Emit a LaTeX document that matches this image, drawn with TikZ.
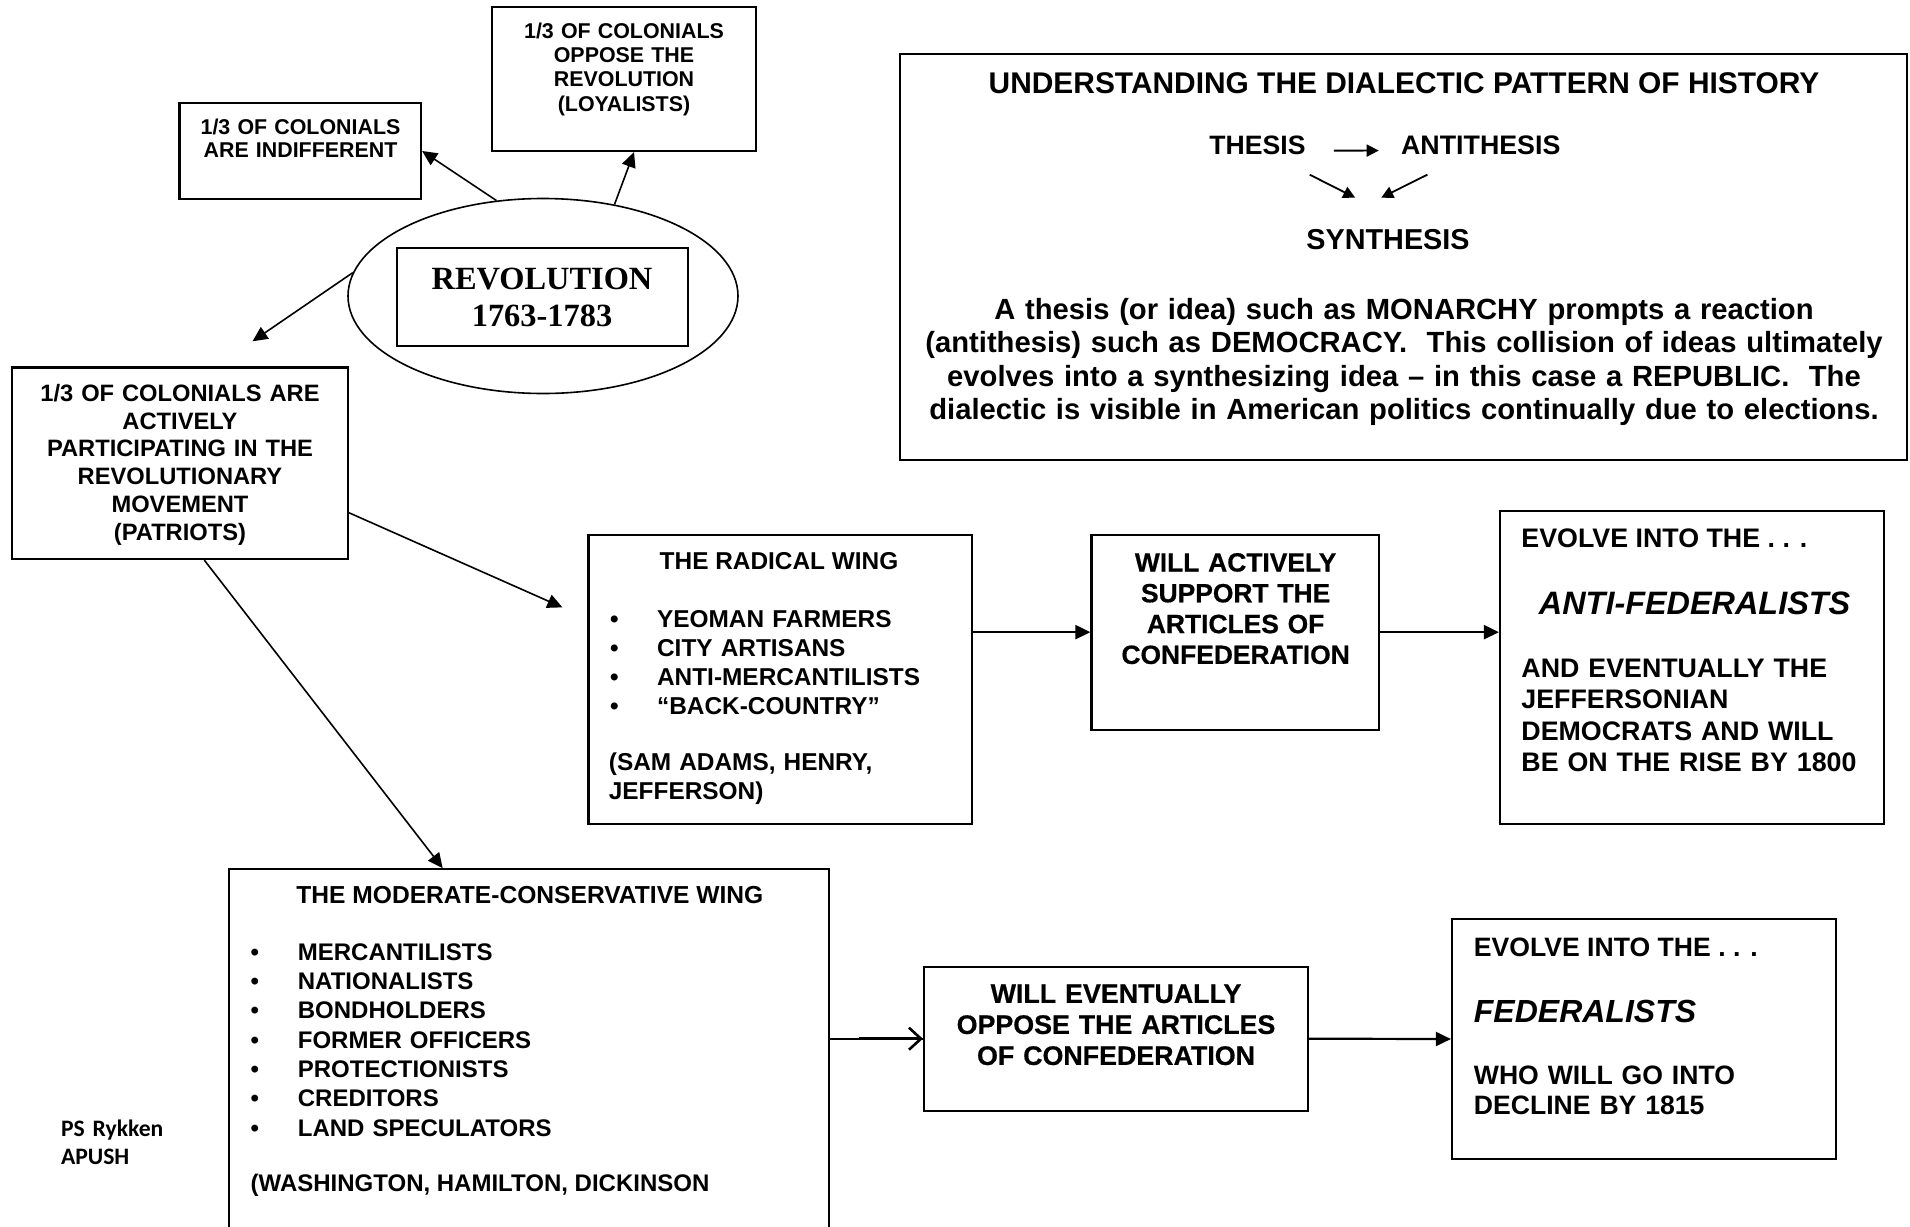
\documentclass[tikz,border=0pt]{standalone}
\usepackage{fontspec}
\setmainfont{Liberation Sans}
\newfontfamily\serifb{Liberation Serif}
\newfontfamily\carl{Carlito}
\newfontfamily\heavyfont{Liberation Sans}[BoldFeatures={FakeBold=0.6}]
\usetikzlibrary{arrows.meta,shapes.geometric,fit,calc}
\newcommand\fsz[2]{\fontsize{#1}{#2}\selectfont\bfseries}
\begin{document}
\begin{tikzpicture}[x=0.5pt,y=-0.5pt,
  box/.style={draw, line width=1.1pt, inner sep=0pt, rectangle},
  txt/.style={inner sep=0pt},
  arr/.style={line width=0.8pt, -{Triangle[length=7.5pt,width=7pt]}},
  harr/.style={line width=1.1pt, -{Triangle[length=7.5pt,width=7pt]}},
  sarr/.style={line width=0.9pt, -{Triangle[length=6pt,width=6pt]}}]
\fill[white] (0,0) rectangle (1910,1226);
\clip (0,0) rectangle (1910,1226);

% boxes
\node[box, fit={(492,6.7) (756,151)}] (loy) {};
\node[box, fit={(179.4,103) (421,199)}] (ind) {};
\node[draw, ellipse, line width=0.8pt, minimum width=195pt, minimum height=97.5pt, inner sep=0pt] (rev) at (543,296) {};
\node[box, fit={(396.8,247.8) (688,346)}] (revbox) {};
\node[box, fit={(12,367.4) (348,559)}] (pat) {};
\node[box, fit={(899.8,54.2) (1907,460)}] (dia) {};
\node[box, fit={(588.5,534.7) (972,824)}] (rad) {};
\node[box, fit={(1091.5,534.7) (1379,729.6)}] (sup) {};
\node[box, fit={(1500,510.8) (1884,824)}] (anti) {};
\node[box, fit={(229,869.3) (829,1250)}] (mod) {};
\node[box, fit={(924,966.7) (1307.9,1110.7)}] (opp) {};
\node[box, fit={(1452,919) (1836,1159)}] (fed) {};

% texts
\node[txt, anchor=base, align=center, text width=125pt, font=\fsz{10.7}{12.2}] (loyT) at (624,38.1)
  {1/3 OF COLONIALS\\OPPOSE THE\\REVOLUTION\\(LOYALISTS)};
\node[txt, anchor=base, align=center, text width=115pt, font=\fsz{10.7}{11.6}] (indT) at (300.5,134.7)
  {1/3 OF COLONIALS\\ARE INDIFFERENT};
\node[txt, anchor=base, align=center, text width=140pt, font={\serifb\fsz{16.2}{18.65}}] (revT) at (542,289)
  {REVOLUTION\\1763-1783};
\node[txt, anchor=base, align=center, text width=160pt, font=\fsz{11.85}{13.9}] (patT) at (180,401.2)
  {1/3 OF COLONIALS ARE\\ACTIVELY\\PARTICIPATING IN THE\\REVOLUTIONARY\\MOVEMENT\\(PATRIOTS)};

\node[txt, anchor=base, font=\fsz{14.95}{17}] (diaT) at (1404,93.7)
  {UNDERSTANDING THE DIALECTIC PATTERN OF HISTORY};
\node[txt, anchor=base west, font=\fsz{13.3}{15}] (thesis) at (1209,154.8) {THESIS};
\node[txt, anchor=base west, font=\fsz{13.4}{15}] (antithesis) at (1400.7,154.8) {ANTITHESIS};
\node[txt, anchor=base, font=\fsz{14.4}{16}] (synthesis) at (1388,249) {SYNTHESIS};
\node[txt, anchor=base, align=center, text width=490pt, font=\fsz{14.6}{16.7}] (diaP) at (1404,319.5)
  {A thesis (or idea) such as MONARCHY prompts a reaction\\(antithesis) such as DEMOCRACY.\ \ This collision of ideas ultimately\\evolves into a synthesizing idea – in this case a REPUBLIC.\ \ The\\dialectic is visible in American politics continually due to elections.};

\node[txt, anchor=base, font=\fsz{12.2}{14.8}] (radT) at (779,569.3) {THE RADICAL WING};
\node[txt, anchor=base west, align=left, text width=170pt, font=\fsz{12.2}{14.6}] (radL) at (609.7,627.2)
  {\makebox[23.5pt][l]{\textbullet}YEOMAN FARMERS\\\makebox[23.5pt][l]{\textbullet}CITY ARTISANS\\\makebox[23.5pt][l]{\textbullet}ANTI-MERCANTILISTS\\\makebox[23.5pt][l]{\textbullet}“BACK-COUNTRY”};
\node[txt, anchor=base west, align=left, text width=170pt, font=\fsz{12.2}{14.6}] (radN) at (608.5,770)
  {(SAM ADAMS, HENRY,\\JEFFERSON)};

\node[txt, anchor=base, align=center, text width=135pt, font={\heavyfont\fsz{13.2}{15.4}}] (supT) at (1235.6,571.5)
  {WILL ACTIVELY\\SUPPORT THE\\ARTICLES OF\\CONFEDERATION};

\node[txt, anchor=base west, font=\fsz{13.4}{15.6}] (antiE) at (1521,547.3) {EVOLVE INTO THE . . .};
\node[txt, anchor=base west, font={\fsz{16.2}{18}\itshape}] (antiF) at (1538.5,614) {ANTI-FEDERALISTS};
\node[txt, anchor=base west, align=left, text width=175pt, font=\fsz{13.4}{15.65}] (antiB) at (1521,677.6)
  {AND EVENTUALLY THE\\JEFFERSONIAN\\DEMOCRATS AND WILL\\BE ON THE RISE BY 1800};

\node[txt, anchor=base west, font=\fsz{12.3}{14.6}] (modT) at (296,903.6) {THE MODERATE-CONSERVATIVE WING};
\node[txt, anchor=base west, align=left, text width=200pt, font=\fsz{12}{14.65}] (modL) at (250.3,960.3)
  {\makebox[23.6pt][l]{\textbullet}MERCANTILISTS\\\makebox[23.6pt][l]{\textbullet}NATIONALISTS\\\makebox[23.6pt][l]{\textbullet}BONDHOLDERS\\\makebox[23.6pt][l]{\textbullet}FORMER OFFICERS\\\makebox[23.6pt][l]{\textbullet}PROTECTIONISTS\\\makebox[23.6pt][l]{\textbullet}CREDITORS\\\makebox[23.6pt][l]{\textbullet}LAND SPECULATORS};
\node[txt, anchor=base west, font=\fsz{12}{14.6}] (modN) at (250.3,1191.9) {(WASHINGTON, HAMILTON, DICKINSON};

\node[txt, anchor=base, align=center, text width=180pt, font={\heavyfont\fsz{13.4}{15.5}}] (oppT) at (1116,1002.9)
  {WILL EVENTUALLY\\OPPOSE THE ARTICLES\\OF CONFEDERATION};

\node[txt, anchor=base west, font=\fsz{13.3}{15}] (fedE) at (1473.5,956.2) {EVOLVE INTO THE . . .};
\node[txt, anchor=base west, font={\fsz{16}{18}\itshape}] (fedF) at (1473.5,1022.5) {FEDERALISTS};
\node[txt, anchor=base west, align=left, text width=170pt, font=\fsz{13.3}{15}] (fedB) at (1473.5,1084.5)
  {WHO WILL GO INTO\\DECLINE BY 1815};

\node[txt, anchor=base west, align=left, text width=60pt, font={\carl\fsz{11.8}{14.2}}] (ps) at (60.6,1136)
  {PS Rykken\\APUSH};

% connectors
\draw[arr] (rev.116) -- (ind.east);
\draw[arr] (rev.52) -- ($(loy.south)+(10,0)$);
\coordinate (patin) at ($(pat.north)+(72.5,-25)$);
\draw[arr] (rev.173) -- (patin);
\coordinate (radin) at ($(rad.west)+(-25,-72)$);
\draw[arr] ($(pat.south east)+(0,-47.3)$) -- (radin);
\draw[arr] ($(pat.south)+(24.3,0)$) -- ($(mod.north)+(-86.3,0)$);
\draw[harr] (rad.east |- sup.west) -- (sup.west);
\draw[harr] (sup.east) -- (sup.east -| anti.west);
\draw[line width=0.8pt] (mod.east |- opp.west) -- (opp.west);
\draw[line width=1.3pt, shorten <=14.5pt, -{Straight Barb[length=6pt,width=11pt,line width=1.3pt]}] (mod.east |- opp.west) -- (opp.west);
\draw[harr] (opp.east) -- (fed.west);

\draw[sarr] ($(thesis.east)+(28,5)$) -- ($(antithesis.west)+(-22,5)$);
\draw[sarr] ($(thesis.south east)+(3.8,19.2)$) -- ($(synthesis.north)+(-32.8,-30.8)$);
\draw[sarr] ($(antithesis.south west)+(26.7,19.2)$) -- ($(synthesis.north)+(-6.8,-30.8)$);
\end{tikzpicture}
\end{document}
